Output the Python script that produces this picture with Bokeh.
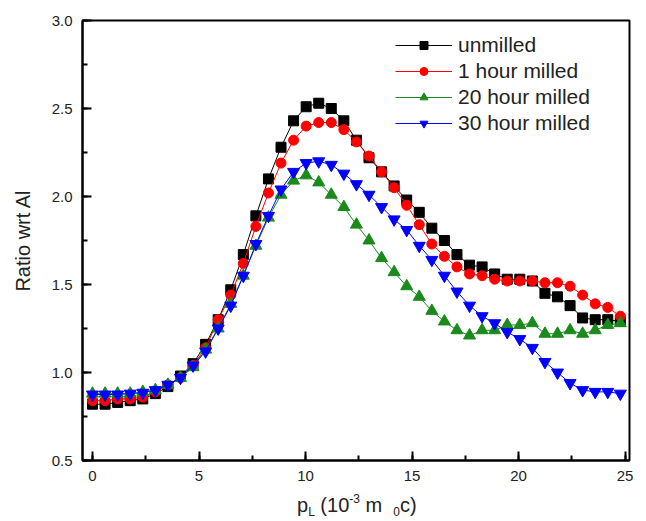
from bokeh.plotting import figure
from bokeh.models import SingleIntervalTicker, NumeralTickFormatter, Range1d, Div
from bokeh.layouts import column
from bokeh.embed import file_html
from bokeh.resources import INLINE

# ---- data ----
x = [0.00, 0.59, 1.18, 1.77, 2.36, 2.95, 3.54, 4.13, 4.72, 5.31,
     5.90, 6.49, 7.08, 7.67, 8.26, 8.85, 9.44, 10.03, 10.62, 11.21,
     11.80, 12.39, 12.98, 13.57, 14.16, 14.75, 15.34, 15.93, 16.52, 17.11,
     17.70, 18.29, 18.88, 19.47, 20.06, 20.65, 21.24, 21.83, 22.42, 23.01,
     23.60, 24.19, 24.78]

unmilled = [0.82, 0.82, 0.83, 0.84, 0.85, 0.88, 0.92, 0.98, 1.05, 1.16,
            1.30, 1.47, 1.67, 1.89, 2.10, 2.28, 2.43, 2.51, 2.53, 2.50,
            2.43, 2.32, 2.22, 2.14, 2.06, 1.98, 1.91, 1.82, 1.75, 1.67,
            1.61, 1.60, 1.56, 1.53, 1.53, 1.52, 1.45, 1.43, 1.38, 1.31,
            1.30, 1.30, 1.29]

milled_1h = [0.84, 0.84, 0.85, 0.85, 0.86, 0.89, 0.93, 0.97, 1.04, 1.14,
             1.30, 1.44, 1.62, 1.83, 2.02, 2.19, 2.32, 2.40, 2.42, 2.42,
             2.38, 2.31, 2.23, 2.14, 2.05, 1.95, 1.84, 1.73, 1.66, 1.60,
             1.56, 1.55, 1.53, 1.52, 1.52, 1.52, 1.51, 1.51, 1.49, 1.44,
             1.39, 1.37, 1.32]

milled_20h = [0.88, 0.88, 0.88, 0.88, 0.89, 0.90, 0.93, 0.97, 1.03, 1.13,
              1.25, 1.39, 1.55, 1.72, 1.88, 2.01, 2.09, 2.12, 2.08, 2.01,
              1.94, 1.84, 1.75, 1.65, 1.57, 1.49, 1.43, 1.35, 1.29, 1.24,
              1.21, 1.24, 1.24, 1.27, 1.27, 1.28, 1.22, 1.22, 1.24, 1.22,
              1.24, 1.27, 1.28]

milled_30h = [0.875, 0.875, 0.875, 0.88, 0.885, 0.90, 0.93, 0.97, 1.04, 1.12,
              1.25, 1.38, 1.55, 1.73, 1.89, 2.04, 2.14, 2.19, 2.20, 2.18,
              2.13, 2.07, 2.01, 1.94, 1.87, 1.81, 1.72, 1.64, 1.55, 1.46,
              1.38, 1.32, 1.28, 1.23, 1.19, 1.14, 1.06, 1.00, 0.94, 0.90,
              0.89, 0.89, 0.88]

series_labels = ["unmilled", "1 hour milled", "20 hour milled", "30 hour milled"]
x_ticks_interval = 5
y_ticks_interval = 0.5

FONT = "Liberation Sans"

p = figure(width=646, height=495,
           x_range=Range1d(-0.47, 25.21), y_range=Range1d(0.5, 3.0),
           output_backend="svg", toolbar_location=None,
           min_border_left=82, min_border_right=17,
           min_border_top=20, min_border_bottom=35,
           background_fill_color="white", border_fill_color="white")

p.xgrid.visible = False
p.ygrid.visible = False
p.outline_line_color = "black"
p.outline_line_width = 2

styles = [
    (unmilled, "black", "square", 10),
    (milled_1h, "#ff0000", "circle", 10),
    (milled_20h, "#1a8a1a", "triangle", 12),
    (milled_30h, "#0000ff", "inverted_triangle", 12),
]
for (ys, col, mk, sz), lab in zip(styles, series_labels):
    p.line(x, ys, line_color=col, line_width=1, legend_label=lab)
    p.scatter(x, ys, marker=mk, size=sz, fill_color=col, line_color=col,
              legend_label=lab)

p.xaxis.ticker = SingleIntervalTicker(interval=x_ticks_interval, num_minor_ticks=2)
p.yaxis.ticker = SingleIntervalTicker(interval=y_ticks_interval, num_minor_ticks=2)
p.yaxis.formatter = NumeralTickFormatter(format="0.0")

for ax in (p.xaxis[0], p.yaxis[0]):
    ax.axis_line_width = 2
    ax.axis_line_color = "black"
    ax.major_tick_in = 9
    ax.major_tick_out = 0
    ax.minor_tick_in = 5
    ax.minor_tick_out = 0
    ax.major_tick_line_width = 2
    ax.minor_tick_line_width = 2
    ax.major_label_text_font = FONT
    ax.major_label_text_font_size = "15px"
    ax.major_label_text_color = "#222222"
    ax.major_label_standoff = 10

p.yaxis.axis_label = "Ratio wrt Al"
p.yaxis.axis_label_text_font = FONT
p.yaxis.axis_label_text_font_size = "20px"
p.yaxis.axis_label_text_font_style = "normal"
p.yaxis.axis_label_text_color = "#222222"
p.yaxis.axis_label_standoff = 15

lg = p.legend[0]
lg.location = (313, 325)
lg.border_line_color = None
lg.background_fill_alpha = 0
lg.label_text_font = FONT
lg.label_text_font_size = "21px"
lg.label_text_color = "#222222"
lg.glyph_width = 57
lg.glyph_height = 20
lg.label_height = 20
lg.label_standoff = 6
lg.spacing = 2
lg.padding = 5
lg.margin = 0

# x-axis title with sub/superscripts as real text
xlabel_html = (
    "<div style=\"font-family:'Liberation Sans';font-size:20px;color:#222222;"
    "margin-left:297px;line-height:21px;white-space:nowrap;\">"
    "p<span style=\"font-size:12px;position:relative;top:4px;\">L</span>"
    "&nbsp;(10<span style=\"font-size:12px;position:relative;top:-9px;\">-3</span>"
    "&nbsp;m&nbsp;&nbsp;<span style=\"font-size:12px;position:relative;top:4px;\">0</span>c)"
    "</div>"
)
xlabel = Div(text=xlabel_html, width=646, height=26, margin=0)

layout = column(p, xlabel, spacing=0)

open("out.html", "w").write(file_html(layout, INLINE))
